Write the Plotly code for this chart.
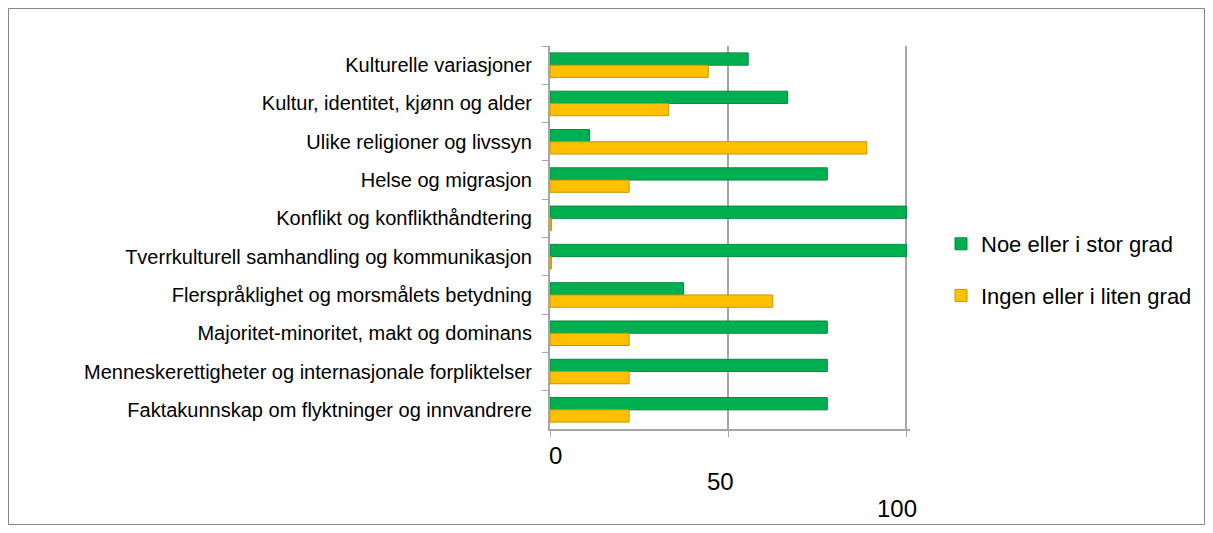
import plotly.graph_objects as go

categories = [
    "Kulturelle variasjoner",
    "Kultur, identitet, kjønn og alder",
    "Ulike religioner og livssyn",
    "Helse og migrasjon",
    "Konflikt og konflikthåndtering",
    "Tverrkulturell samhandling og kommunikasjon",
    "Flerspråklighet og morsmålets betydning",
    "Majoritet-minoritet, makt og dominans",
    "Menneskerettigheter og internasjonale forpliktelser",
    "Faktakunnskap om flyktninger og innvandrere",
]
noe_values = [55.6, 66.7, 11.1, 77.8, 100, 100, 37.5, 77.8, 77.8, 77.8]
ingen_values = [44.4, 33.3, 88.9, 22.2, 0.4, 0.4, 62.5, 22.2, 22.2, 22.2]
series_names = ["Noe eller i stor grad", "Ingen eller i liten grad"]
tick_values = [0, 50, 100]
tick_labels = ["0", "50", "100"]

GREEN = "#00B050"
YELLOW = "#FFC000"
FONT = "Liberation Sans"

fig = go.Figure()
fig.add_trace(go.Bar(
    y=categories, x=noe_values, orientation="h", name=series_names[0],
    legendgroup="g1",
    marker=dict(color=GREEN, line=dict(color="#008A3C", width=1)),
))
fig.add_trace(go.Bar(
    y=categories, x=ingen_values, orientation="h", name=series_names[1],
    legendgroup="g2",
    marker=dict(color=YELLOW, line=dict(color="#C99600", width=1)),
))

# page body has an 8px margin, so the figure is 16px smaller than the window
W, H = 1197, 517
L, R, T, B = 542, 295, 38, 96
pw, ph = W - L - R, H - T - B

def px(xf):
    return (xf - L) / pw

def py(yf):
    return (H - B - yf) / ph

# staggered tick labels (imitating the perspective of the original)
stagger = [447, 474, 500]
shift = [5, -8, -9]
annotations = []
for v, lab, yy, sh in zip(tick_values, tick_labels, stagger, shift):
    annotations.append(dict(
        x=v, xref="x", y=py(yy), yref="paper", text=lab, showarrow=False,
        xshift=sh,
        font=dict(family=FONT, size=24, color="#000000"),
        xanchor="center", yanchor="middle",
    ))

fig.update_layout(
    width=W, height=H,
    margin=dict(l=L, r=R, t=T, b=B, pad=0, autoexpand=False),
    paper_bgcolor="white", plot_bgcolor="white",
    barmode="group", bargap=0.36, bargroupgap=0.0,
    font=dict(family=FONT, size=20, color="#000000"),
    showlegend=True,
    legend=dict(
        x=px(933), y=py(262), xanchor="left", yanchor="middle",
        font=dict(family=FONT, size=22, color="#000000"),
        traceorder="grouped", itemwidth=30, tracegroupgap=20,
        bgcolor="rgba(0,0,0,0)",
    ),
    xaxis=dict(
        range=[0, 101], tickvals=tick_values, showticklabels=False,
        showgrid=True, gridcolor="#A6A6A6", gridwidth=2,
        zeroline=False, showline=True, linecolor="#A6A6A6", linewidth=2,
        ticks="outside", ticklen=6, tickcolor="#A6A6A6",
        fixedrange=True,
    ),
    yaxis=dict(
        autorange="reversed", showgrid=False, zeroline=False,
        showline=True, linecolor="#A6A6A6", linewidth=2,
        ticks="outside", ticklen=6, tickcolor="#A6A6A6", tickson="boundaries",
        ticklabelstandoff=12,
        tickfont=dict(family=FONT, size=20, color="#000000"),
    ),
    annotations=annotations,
    shapes=[dict(
        type="rect", xref="paper", yref="paper",
        x0=px(0.5), x1=px(1196.5), y0=py(516.5), y1=py(0.5),
        line=dict(color="#868686", width=1), layer="below",
    )],
)

fig.write_html("out.html")
